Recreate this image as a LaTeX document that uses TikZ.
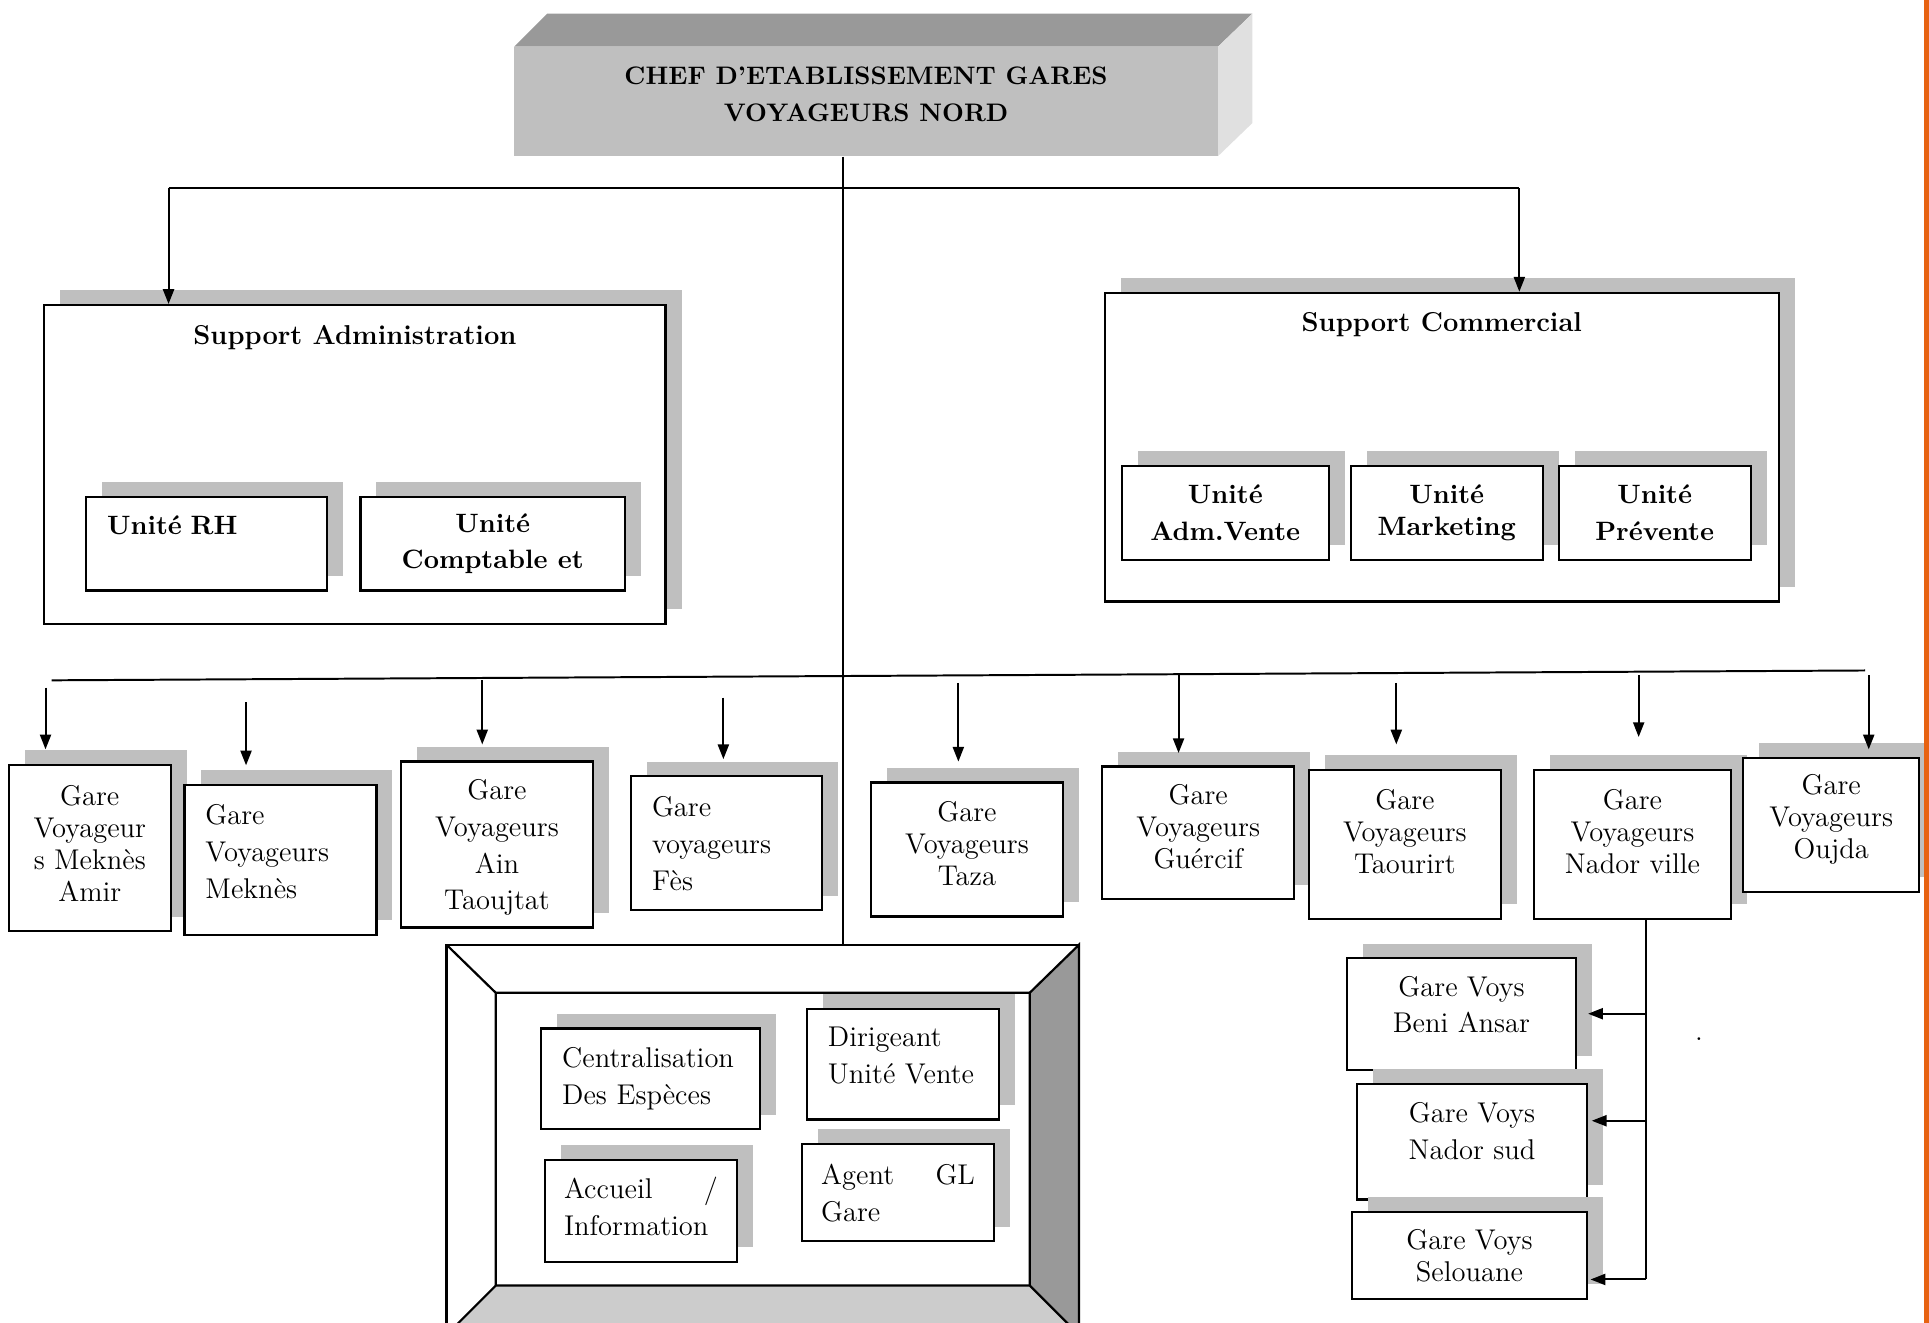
\documentclass[tikz,border=0pt]{standalone}
\usepackage{tikz}
\usetikzlibrary{arrows.meta,shadows}
\definecolor{ombre}{gray}{0.75}
\definecolor{bord}{RGB}{231,98,17}

\begin{document}
\begin{tikzpicture}[x=0.5pt, y=-0.5pt,
    boite/.style 2 args = {draw, line width=0.9pt, fill=white, inner sep=0pt,
      minimum width=#1*0.5pt, minimum height=#2*0.5pt,
      general shadow={fill=ombre, shadow xshift=6.5pt, shadow yshift=6pt}},
    txt/.style = {font=\fontsize{11.6}{#1}\selectfont, align=center}, txt/.default=13,
    gauche/.style = {font=\fontsize{11.6}{15}\selectfont, align=left, text width=#1},
    gras/.style = {font=\fontsize{10.8}{#1}\selectfont\bfseries, align=center}, gras/.default=15,
    lien/.style = {line width=0.8pt},
    fleche/.style = {lien, -{Triangle[length=6pt, width=4.5pt]}}]
  \useasboundingbox (0,0) rectangle (1568,1075);
  \clip (0,0) rectangle (1568,1075);

  % chef
  \fill[black!40] (418,38) -- (445,11) -- (1018,11) -- (990,38) -- cycle;
  \fill[black!12] (990,38) -- (1018,11) -- (1018,100) -- (990,127) -- cycle;
  \node[fill=black!25, minimum width=572*0.5pt, minimum height=89*0.5pt,
    label={[font=\fontsize{10.3}{15}\selectfont\bfseries, align=center, yshift=3pt]center:{CHEF D’ETABLISSEMENT GARES\\VOYAGEURS NORD}}]
    (chef) at (704,82.5) {};

  % supports
  \node[boite={505}{259}, label={[font=\fontsize{11.1}{15}\selectfont\bfseries, anchor=north, yshift=-5pt]north:Support Administration}]
    (admin) at (288.5,377.5) {};
  \node[boite={196}{76}, gras, align=left, text width=81pt] (rh) at (168,442) {Unité RH\\\mbox{}};
  \node[boite={215}{76}, gras] (compta) at (400.5,442) {Unité\\Comptable et};

  \node[boite={548}{251}, label={[font=\fontsize{11.1}{15}\selectfont\bfseries, anchor=north, yshift=-5pt]north:Support Commercial}]
    (comm) at (1172,363.5) {};
  \node[boite={168}{76}, gras] (admvente) at (996,417) {Unité\\Adm.Vente};
  \node[boite={156}{76}, gras=13] (marketing) at (1176,417) {Unité\\Marketing};
  \node[boite={156}{76}, gras] (prevente) at (1345,417) {Unité\\Prévente};

  % gares
  \node[boite={132}{135}, txt, text depth=4pt] (amir) at (73,689.5) {Gare\\Voyageur\\s Meknès\\Amir};
  \node[boite={156}{122}, gauche=61pt, text depth=37pt] (meknes) at (228,699) {Gare\\Voyageurs\\Meknès};
  \node[boite={156}{135}, txt=15, text depth=0pt] (ain) at (404,686.5) {Gare\\Voyageurs\\Ain\\Taoujtat};
  \node[boite={155}{109}, gauche=60.5pt] (fes) at (590.5,685.5) {Gare\\voyageurs\\Fès};
  \node[boite={156}{109}, txt, text depth=5pt] (taza) at (786,690.5) {Gare\\Voyageurs\\Taza};
  \node[boite={156}{108}, txt, text depth=5pt] (guercif) at (974,677) {Gare\\Voyageurs\\Guércif};
  \node[boite={156}{121}, txt, text depth=11pt] (taourirt) at (1142,686.5) {Gare\\Voyageurs\\Taourirt};
  \node[boite={160}{121}, txt, text depth=11pt] (nador) at (1327,686.5) {Gare\\Voyageurs\\Nador ville};
  \node[boite={143}{109}, txt, text depth=7pt] (oujda) at (1488.5,670.5) {Gare\\Voyageurs\\Oujda};

  \node[boite={186}{91}, txt=14.5, text depth=8pt] (beni) at (1188,824.5) {Gare Voys\\Beni Ansar};
  \node[boite={187}{94}, txt=15, text depth=9pt] (nadorsud) at (1196.5,928) {Gare Voys\\Nador sud};
  \node[boite={191}{71}, txt] (selouane) at (1194.5,1020.5) {Gare Voys\\Selouane};
  \node[txt, inner sep=0pt] (point) at (1381,845) {.};

  % unite vente
  \node[draw, line width=0.9pt, inner sep=0pt, minimum width=514*0.5pt,
    minimum height=317*0.5pt] (cadre) at (620,926.5) {};
  \filldraw[line width=0.9pt, fill=black!40] (877,768) -- (837,807) -- (837,1045) -- (877,1085) -- cycle;
  \filldraw[line width=0.9pt, fill=black!20] (363,1085) -- (403,1045) -- (837,1045) -- (877,1085) -- cycle;
  \draw[line width=0.9pt] (363,768) -- (403,807) -- (837,807) (403,807) -- (403,1045);
  \node[boite={178}{82}, gauche=72pt] (centr) at (529,877) {Centralisation\\Des Espèces};
  \node[boite={156}{90}, gauche=61pt, text depth=22pt] (dirig) at (734,865) {Dirigeant\\Unité Vente};
  \node[boite={156}{83}, gauche=62.5pt, text depth=19pt] (accueil) at (521,984.5) {\hbox to\hsize{Accueil\hfill/}\\Information};
  \node[boite={156}{79}, gauche=62.5pt] (agent) at (730,969.5) {\hbox to\hsize{Agent\hfill GL}\\Gare};

  % liens
  \coordinate (t1) at (685,153);
  \coordinate (g1) at (137,153);
  \coordinate (g2) at (1235,153);
  \draw[lien] (t1 |- chef.south) -- (t1 |- cadre.north);
  \draw[lien] (g1) -- (g2);
  \draw[fleche] (g1) -- (g1 |- admin.north);
  \draw[fleche] (g2) -- (g2 |- comm.north);

  \coordinate (l1) at (42,553);
  \coordinate (l2) at (1516,545);
  \draw[lien] (l1) -- (l2);
  \foreach \x/\y/\n/\s in {37/559/amir/6, 200/571/meknes/7.5, 392/553/ain/6.5,
      588/567/fes/6.5, 779/555/taza/8, 958/549/guercif/5, 1135/555/taourirt/10,
      1332/549/nador/13, 1519/549/oujda/3} {
    \coordinate (d\n) at (\x,\y);
    \draw[fleche, shorten >=\s pt] (d\n) -- (d\n |- \n.north);
  }

  \coordinate (nb) at (1338,1040);
  \coordinate (b1) at (1338,824);
  \coordinate (b2) at (1338,911);
  \draw[lien] (nb |- nador.south) -- (nb);
  \draw[fleche, shorten >=4.5pt] (b1) -- (b1 -| beni.east);
  \draw[fleche, shorten >=1.5pt] (b2) -- (b2 -| nadorsud.east);
  \draw[fleche, shorten >=1pt] (nb) -- (nb -| selouane.east);

  \fill[bord] (1564,0) rectangle (1568,1075);
\end{tikzpicture}
\end{document}
